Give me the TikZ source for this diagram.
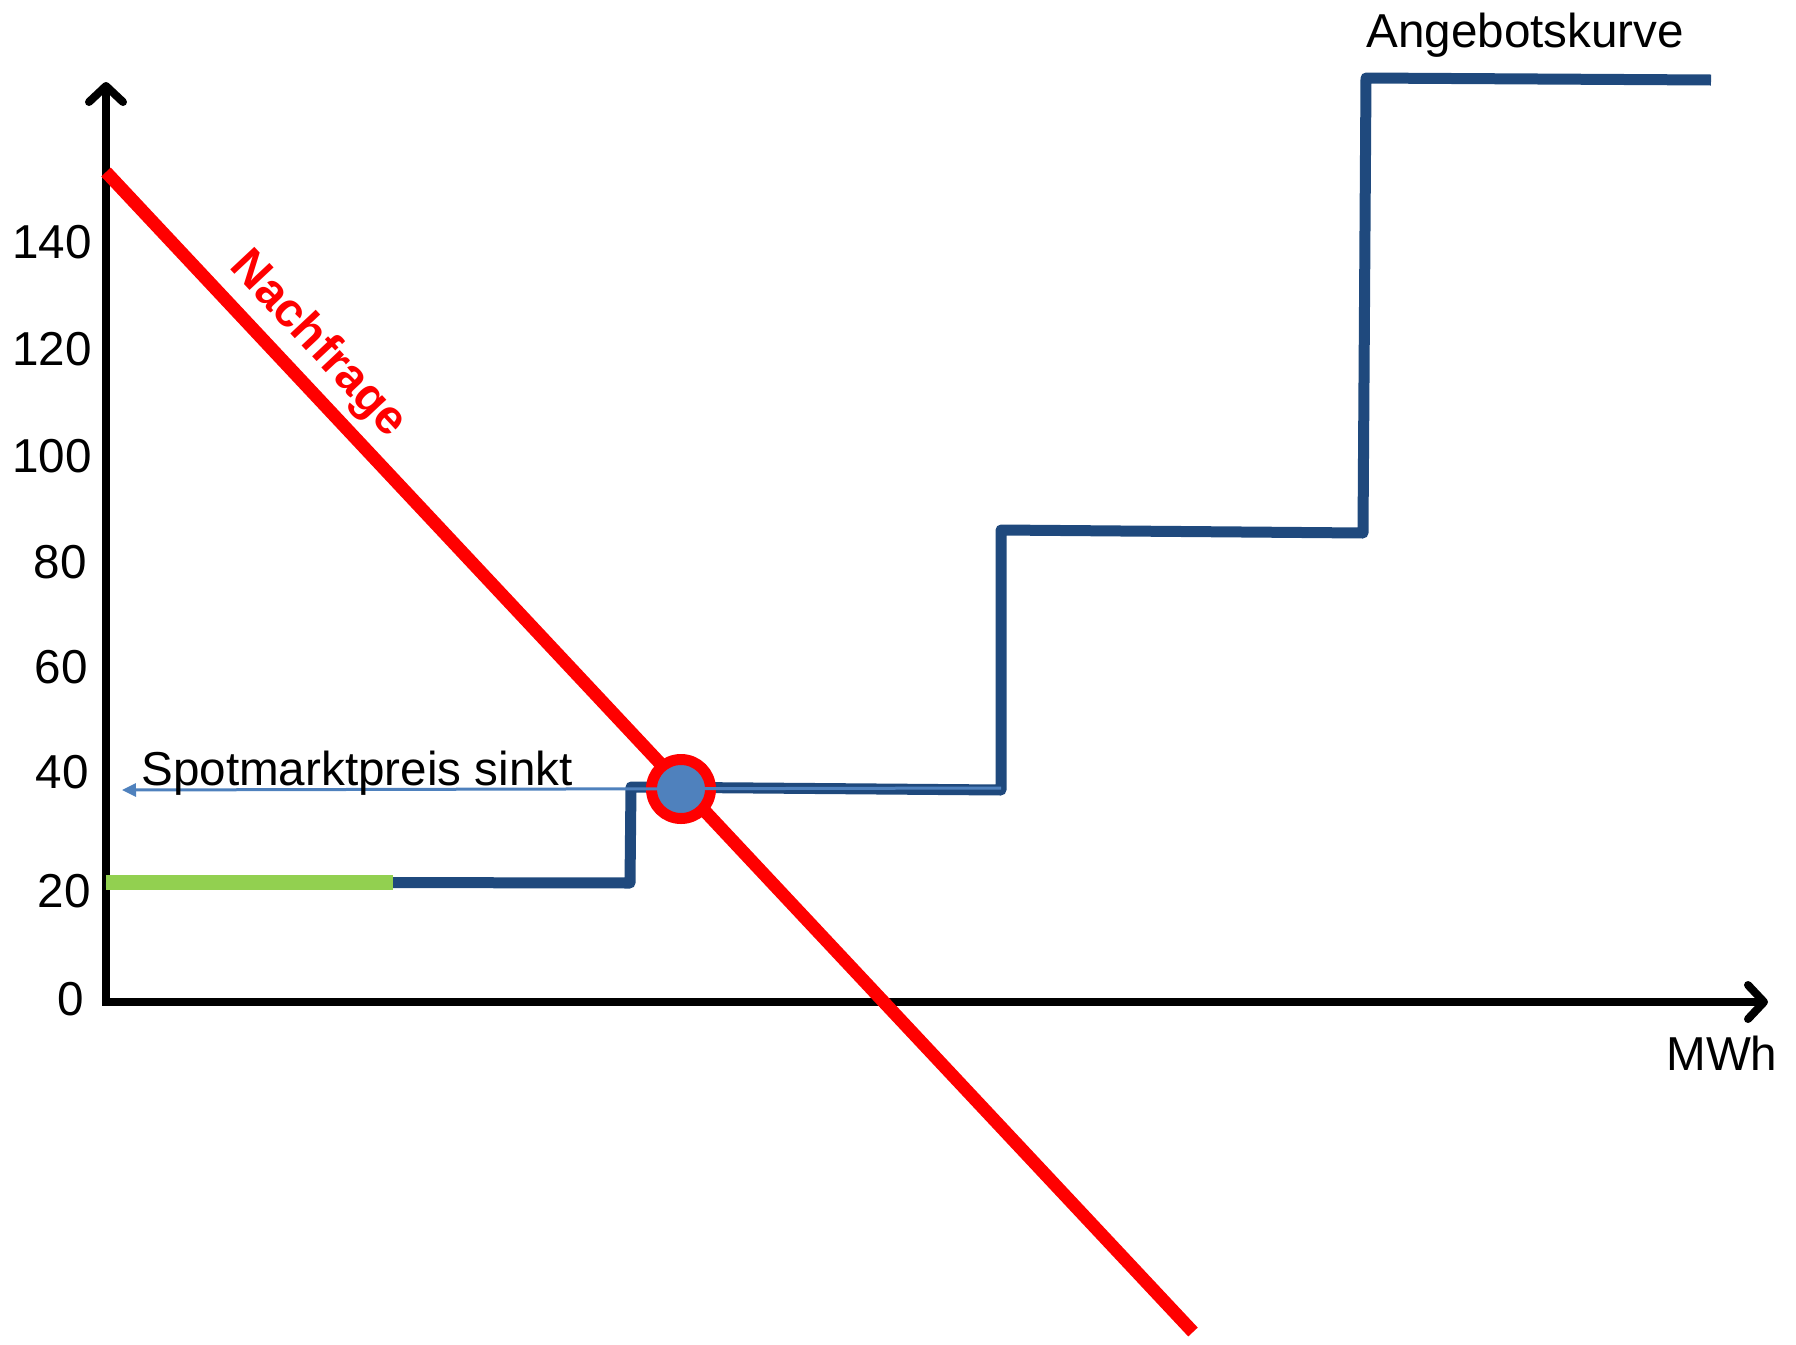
\documentclass[tikz,border=0pt]{standalone}
\usepackage{fontspec}
\setmainfont{Liberation Sans}
\usetikzlibrary{arrows.meta,positioning}
\definecolor{angebot}{RGB}{31,73,125}
\definecolor{hellblau}{RGB}{79,129,189}
\definecolor{gruen}{RGB}{146,208,80}

\begin{document}
\begin{tikzpicture}[x=0.5pt,y=0.5pt,yscale=-1,
    achse/.style={line width=4pt,{Straight Barb[length=8pt,width=17pt,round]}-{Straight Barb[length=8pt,width=17pt,round]}},
    kurve/.style={line width=5.5pt,color=angebot,line join=round},
    tick/.style={anchor=base east,inner sep=0pt,font=\fontsize{23.8}{28}\selectfont},
    txt/.style={anchor=base west,inner sep=0pt,font=\fontsize{23.8}{28}\selectfont}]
        \useasboundingbox (0,0) rectangle (1796,1345);

        % axes
        \coordinate (ytip) at (106,82);
        \coordinate (O) at (106,1002);
        \coordinate (xtip) at (1768,1002);
        \draw[achse] (ytip) -- (O) -- (xtip);

        % supply curve
        \coordinate (s0) at (106,882);
        \coordinate (s1) at (630,883);
        \coordinate (s2) at (631,787);
        \coordinate (s3) at (1001,790);
        \coordinate (s4) at (1001,530);
        \coordinate (s5) at (1363,533);
        \coordinate (s6) at (1366,78);
        \coordinate (s7) at (1711,80);
        \draw[kurve] (s0) -- (s1) -- (s2) -- (s3) -- (s4) -- (s5) -- (s6) -- (s7);
        \coordinate (g1) at (393,882);
        \draw[gruen,line width=7.5pt] (s0) -- (g1);

        % demand
        \coordinate (d0) at (106,172);
        \coordinate (d1) at (1193,1332);
        \draw[red,line width=6.5pt] (d0) -- (d1);
        \node[rotate=-46.9,inner sep=0pt,text=red,font=\fontsize{24}{28}\selectfont\bfseries] (nachfrage) at (318,345) {Nachfrage};

        \node[circle,draw=red,line width=5.5pt,fill=hellblau,minimum size=29.5pt,inner sep=0pt] (gg) at (681,789) {};

        \coordinate (p0) at (1001,788);
        \coordinate (p1) at (122,790);
        \draw[hellblau,line width=1.5pt,-{Triangle[length=7pt,width=6.5pt]}] (p0) -- (p1);

        % labels
        \node[tick] (t140) at (92,258) {140};
        \node[tick] (t120) at (92,365) {120};
        \node[tick] (t100) at (92,472) {100};
        \node[tick] (t80) at (87,578) {80};
        \node[tick] (t60) at (88,683) {60};
        \node[tick] (t40) at (89,788) {40};
        \node[tick] (t20) at (91,907) {20};
        \node[tick] (t0) at (84,1015) {0};

        \node[txt] (spot) at (141,785) {Spotmarktpreis sinkt};
        \node[txt] (angebotskurve) at (1366,47) {Angebotskurve};
        \node[txt] (mwh) at (1666,1070) {MWh};
    \end{tikzpicture}
\end{document}
